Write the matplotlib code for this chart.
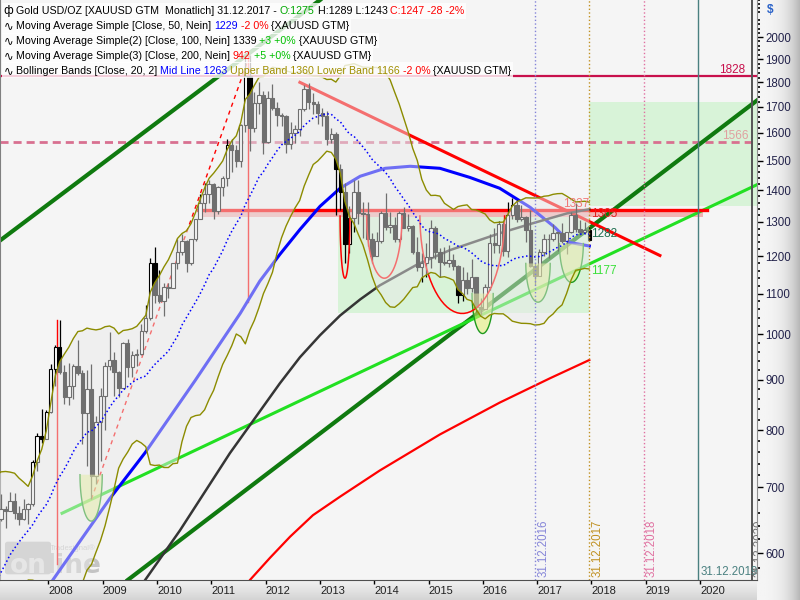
import numpy as np
import pandas as pd
import matplotlib
matplotlib.use('Agg')
import matplotlib.pyplot as plt
from matplotlib.offsetbox import TextArea, HPacker, AnchoredOffsetbox
from matplotlib.patches import FancyBboxPatch
from matplotlib.ticker import FixedLocator, NullFormatter

plt.rcParams['font.family'] = ['Liberation Sans', 'DejaVu Sans']

# Gold monthly candles, Jan 2005 - Dec 2017 (one row per year)
opens = [438, 422, 435, 428, 435, 417, 437, 429, 433, 473, 470, 495,
         513, 569, 556, 582, 654, 643, 613, 633, 623, 599, 604, 646,
         632, 650, 665, 662, 678, 659, 650, 666, 673, 743, 789, 783,
         834, 923, 972, 916, 865, 886, 928, 913, 833, 880, 718, 815,
         866, 928, 942, 916, 883, 980, 926, 954, 955, 1008, 1040, 1182,
         1096, 1081, 1118, 1113, 1180, 1212, 1244, 1181, 1248, 1308, 1357, 1386,
         1421, 1332, 1409, 1439, 1556, 1536, 1500, 1628, 1828, 1620, 1714, 1746,
         1565, 1737, 1696, 1668, 1664, 1560, 1598, 1614, 1692, 1772, 1719, 1713,
         1675, 1663, 1578, 1595, 1472, 1393, 1234, 1312, 1395, 1327, 1323, 1250,
         1202, 1244, 1326, 1284, 1291, 1250, 1327, 1282, 1287, 1211, 1171, 1182,
         1199, 1283, 1213, 1183, 1182, 1190, 1172, 1095, 1134, 1115, 1142, 1065,
         1061, 1117, 1238, 1233, 1293, 1215, 1322, 1351, 1309, 1316, 1277, 1173,
         1146, 1211, 1249, 1249, 1268, 1268, 1242, 1269, 1322, 1280, 1271, 1275]
highs = [438, 437, 446, 438, 436, 441, 438, 447, 474, 478, 497, 538,
         570, 574, 587, 654, 730, 643, 679, 666, 642, 611, 650, 651,
         653, 690, 671, 692, 691, 671, 682, 675, 746, 794, 841, 838,
         933, 975, 1033, 931, 936, 934, 988, 921, 920, 934, 826, 882,
         937, 1006, 960, 918, 983, 990, 961, 966, 1025, 1070, 1195, 1227,
         1162, 1127, 1127, 1180, 1249, 1265, 1245, 1250, 1308, 1388, 1424, 1432,
         1424, 1412, 1447, 1576, 1577, 1556, 1632, 1911, 1920, 1761, 1803, 1764,
         1764, 1791, 1720, 1677, 1667, 1640, 1630, 1692, 1790, 1796, 1755, 1723,
         1697, 1685, 1617, 1605, 1488, 1424, 1348, 1434, 1434, 1362, 1361, 1267,
         1270, 1332, 1392, 1331, 1315, 1332, 1345, 1324, 1290, 1256, 1208, 1239,
         1307, 1288, 1224, 1225, 1232, 1205, 1175, 1170, 1157, 1191, 1142, 1088,
         1125, 1263, 1283, 1304, 1304, 1362, 1375, 1367, 1352, 1318, 1338, 1180,
         1220, 1264, 1263, 1295, 1271, 1296, 1270, 1331, 1357, 1306, 1299, 1289]
lows = [418, 412, 424, 421, 414, 414, 418, 429, 432, 461, 468, 488,
        513, 538, 535, 582, 634, 543, 604, 612, 561, 560, 600, 604,
        603, 647, 636, 662, 650, 641, 648, 643, 670, 727, 776, 783,
        833, 887, 911, 850, 849, 860, 909, 774, 735, 681, 705, 745,
        800, 920, 866, 865, 883, 905, 905, 930, 953, 1004, 1035, 1075,
        1076, 1045, 1088, 1113, 1165, 1203, 1157, 1175, 1242, 1308, 1330, 1360,
        1309, 1325, 1381, 1415, 1462, 1478, 1478, 1603, 1535, 1603, 1670, 1523,
        1562, 1689, 1627, 1627, 1527, 1540, 1564, 1590, 1685, 1692, 1672, 1635,
        1626, 1555, 1562, 1321, 1338, 1180, 1208, 1271, 1293, 1251, 1228, 1181,
        1202, 1238, 1277, 1268, 1240, 1241, 1281, 1273, 1206, 1160, 1131, 1142,
        1167, 1191, 1142, 1175, 1170, 1162, 1077, 1080, 1098, 1105, 1053, 1046,
        1061, 1108, 1208, 1208, 1200, 1199, 1310, 1301, 1302, 1241, 1171, 1123,
        1146, 1200, 1195, 1244, 1214, 1237, 1205, 1267, 1271, 1261, 1265, 1243]
closes = [422, 435, 428, 435, 417, 437, 429, 433, 473, 470, 495, 513,
          569, 556, 582, 654, 643, 613, 633, 623, 599, 604, 646, 632,
          650, 665, 662, 678, 659, 650, 666, 673, 743, 789, 783, 834,
          923, 972, 916, 865, 886, 928, 913, 833, 880, 718, 815, 866,
          928, 942, 916, 883, 980, 926, 954, 955, 1008, 1040, 1182, 1096,
          1081, 1118, 1113, 1180, 1212, 1244, 1181, 1248, 1308, 1357, 1386, 1421,
          1332, 1409, 1439, 1556, 1536, 1500, 1628, 1828, 1620, 1714, 1746, 1565,
          1737, 1696, 1668, 1664, 1560, 1598, 1614, 1692, 1772, 1719, 1713, 1675,
          1663, 1578, 1595, 1472, 1393, 1234, 1312, 1395, 1327, 1323, 1250, 1202,
          1244, 1326, 1284, 1291, 1250, 1327, 1282, 1287, 1211, 1171, 1182, 1199,
          1283, 1213, 1183, 1182, 1190, 1172, 1095, 1134, 1115, 1142, 1065, 1061,
          1117, 1238, 1233, 1293, 1215, 1322, 1351, 1309, 1316, 1277, 1173, 1146,
          1211, 1249, 1249, 1268, 1268, 1242, 1269, 1322, 1280, 1271, 1275, 1247]
first_year = 2005

# Long moving averages (need history before 2005)
ma50_t = [2007.47, 2008.08, 2009.13, 2009.78, 2010.70, 2011.53, 2011.89, 2012.26, 2012.63,
          2013.00, 2013.37, 2013.74, 2014.20, 2014.66, 2015.21, 2015.76, 2016.31, 2016.87,
          2017.33, 2017.60, 2017.96]
ma50_p = [504, 564, 682, 759, 898, 1050, 1132, 1205, 1277, 1348, 1406, 1446, 1473, 1480,
          1473, 1442, 1406, 1345, 1283, 1239, 1229]
ma100_t = [2009.32, 2009.78, 2010.42, 2011.34, 2012.26, 2012.63, 2013.00, 2013.37, 2013.74,
           2014.10, 2014.79, 2015.39, 2016.31, 2016.92, 2017.55, 2017.96]
ma100_p = [518, 564, 633, 758, 892, 948, 998, 1045, 1085, 1121, 1177, 1217, 1266, 1296, 1326, 1339]
ma200_t = [2011.34, 2011.71, 2012.08, 2012.45, 2012.87, 2013.37, 2014.10, 2015.21, 2016.31,
           2017.24, 2017.96]
ma200_p = [529, 564, 594, 624, 656, 685, 728, 792, 853, 903, 942]

# Drawn trend lines (start, end)
dark_green_a_t, dark_green_a_p = [2007.11, 2013.0], [1245, 2181]
dark_green_b_t, dark_green_b_p = [2009.46, 2021.05], [564, 1726]
light_green_t, light_green_p = [2008.25, 2021.05], [659, 1418]
red_down_t, red_down_p = [2012.63, 2019.26], [1800, 1202]
red_dash_t, red_dash_p = [2008.79, 2011.71], [681, 1920]

# Horizontal levels
level_1828, level_1566, level_1337 = 1828, 1566, 1337
zone_t, zone_p = [2010.76, 2020.05], [1315, 1331]
red_level_t = [2010.76, 2020.13]

# Vertical peak markers (time, top, bottom)
peak_marks = [(2008.16, 1033, 586, 'red'), (2011.67, 1920, 1078, 'red')]

# Boxes (t0, t1, p0, p1)
green_boxes = [(2013.34, 2017.96, 1050, 1315), (2017.96, 2021.05, 1349, 1719)]

# Cycle arcs (t0, t1, top, bottom)
green_arcs = [(2008.58, 2008.99, 721, 647), (2015.80, 2016.19, 1100, 1002),
              (2016.79, 2017.24, 1180, 1078), (2017.41, 2017.85, 1236, 1129)]
red_arcs = [(2013.37, 2013.55, 1318, 1140), (2013.86, 2014.51, 1318, 1140),
            (2014.84, 2016.40, 1318, 1050)]

# Date markers
date_years = [2016, 2017, 2018, 2019, 2020]
date_colors = ['#8484d8', '#c09020', '#e070a0', '#4a8080', '#555555']

year_ticks = list(range(2008, 2021))
price_ticks = list(range(600, 2001, 100))


def bar_time(i):
    # monthly bar i is drawn in the middle of its month
    return first_year + (i + 0.5) / 12


def arc(t0, t1, top, bottom, n=40):
    # U shaped half ellipse, elliptic on the log price axis
    theta = np.linspace(0, np.pi, n)
    xs = (t0 + t1) / 2 - (t1 - t0) / 2 * np.cos(theta)
    ly = np.log(top) - (np.log(top) - np.log(bottom)) * np.sin(theta)
    return xs, np.exp(ly)


fig = plt.figure(figsize=(8, 6), dpi=100)

# grey gradient panels for the axes
rax = fig.add_axes([757 / 800, 0, 43 / 800, 1], zorder=0)
shade = np.linspace(0, 1, 64)
rax.imshow(np.tile(0.96 - 0.24 * shade ** 3, (2, 1)), cmap='gray', vmin=0, vmax=1,
           aspect='auto', extent=[0, 1, 0, 1])
rax.axis('off')
bax = fig.add_axes([0, 0, 757 / 800, 20 / 600], zorder=0)
bax.imshow(np.tile(0.95 - 0.12 * shade, (2, 1)).T, cmap='gray', vmin=0, vmax=1,
           aspect='auto', extent=[0, 1, 0, 1])
bax.axis('off')

ax = fig.add_axes([0, 20 / 600, 757 / 800, 580 / 600], zorder=2)
ax.set_facecolor('#f5f5f5')
ax.set_yscale('log')
ax.set_ylim(564, 2181)
ax.set_xlim(2007.107, 2021.048)

t = np.array([bar_time(i) for i in range(len(closes))])
o, h, l, c = (np.array(v, dtype=float) for v in (opens, highs, lows, closes))

# Bollinger bands from the closes
cs = pd.Series(c)
mid = cs.rolling(20).mean()
sd = cs.rolling(20).std(ddof=0)
upper = (mid + 2 * sd).values
lower = (mid - 2 * sd).values
ok = ~np.isnan(upper)

# boxes and resistance zone
for t0, t1, p0, p1 in green_boxes:
    ax.fill_between([t0, t1], p0, p1, color='#90ee90', alpha=0.28, lw=0, zorder=1)
ax.fill_between(zone_t, zone_p[0], zone_p[1], color='#f08888', alpha=0.6, lw=0, zorder=1.2)

# watermark
ax.add_patch(FancyBboxPatch((8 / 757, 8 / 580), 40 / 757, 28 / 580, transform=ax.transAxes,
                            boxstyle='round,pad=0.004', facecolor='#c4c4c4', edgecolor='none',
                            zorder=1.3))
ax.text(10 / 757, 7 / 580, 'on', transform=ax.transAxes, fontsize=19, fontweight='bold',
        family='DejaVu Sans', color='#e4e4e4', zorder=1.4)
ax.text(47 / 757, 7 / 580, 'line', transform=ax.transAxes, fontsize=19, fontweight='bold',
        family='DejaVu Sans', color='#c4c4c4', zorder=1.4)
ax.text(50 / 757, 30 / 580, 'Tradesignal®', transform=ax.transAxes, fontsize=5.5,
        color='#c4c4c4', zorder=1.4)

# horizontal levels
ax.axhline(level_1828, color='#c8104c', lw=1.6, zorder=2)
ax.axhline(level_1566, color='#d87090', lw=2, dashes=(2.9, 1.8), zorder=2)
ax.plot(red_level_t, [level_1337, level_1337], color='red', lw=2.4, zorder=2.1)

# trend lines
ax.plot(dark_green_a_t, dark_green_a_p, color='#0f7a0f', lw=3, zorder=2)
ax.plot(dark_green_b_t, dark_green_b_p, color='#0f7a0f', lw=3, zorder=2)
ax.plot(light_green_t, light_green_p, color='#22e022', lw=2.2, zorder=2)
ax.plot(red_down_t, red_down_p, color='red', lw=2.2, zorder=2)
ax.plot(red_dash_t, red_dash_p, color='red', lw=1, dashes=(3, 3), zorder=2)
for pt, top, bot, col in peak_marks:
    ax.plot([pt, pt], [bot, top], color=col, lw=1, zorder=2)

# moving averages
ax.plot(ma50_t, ma50_p, color='#0000ff', lw=2.2, zorder=2.2)
ax.plot(ma100_t, ma100_p, color='#353535', lw=1.8, zorder=2.2)
ax.plot(ma200_t, ma200_p, color='#ff0000', lw=1.6, zorder=2.2)

# candles: hollow up bars, filled down bars
ax.vlines(t, l, h, color='black', lw=0.9, zorder=3)
up = c >= o
body = np.maximum(np.abs(c - o), 1.5)
ax.bar(t, body, bottom=np.minimum(o, c), width=0.062, color=np.where(up, 'white', 'black'),
       edgecolor='black', lw=0.8, zorder=3.1)

# cycle arcs
for t0, t1, top, bot in green_arcs:
    xs, ys = arc(t0, t1, top, bot)
    ax.fill(xs, ys, facecolor='#e2ee70', alpha=0.55, edgecolor='none', zorder=3.4)
    ax.plot(xs, ys, color='#1f9a1f', lw=1, zorder=3.5)
for t0, t1, top, bot in red_arcs:
    xs, ys = arc(t0, t1, top, bot)
    ax.plot(xs, ys, color='red', lw=1.1, zorder=3.5)

# band shading lies over everything below it
ax.fill_between(t[ok], lower[ok], upper[ok], color='#e9e9e9', alpha=0.48, lw=0, zorder=4)
ax.plot(t[ok], upper[ok], color='#8c8c00', lw=1, zorder=5)
ax.plot(t[ok], lower[ok], color='#8c8c00', lw=1, zorder=5)
ax.plot(t[ok], mid.values[ok], color='#0000ff', lw=1.1, ls=':', zorder=5)

# date lines
for yr, col in zip(date_years, date_colors):
    x = yr + 11.5 / 12
    label = '31.12.%d' % yr
    if yr == 2019:
        ax.axvline(x, color=col, lw=1, zorder=5)
        ax.text(x + 0.05, 0.004, label, transform=ax.get_xaxis_transform(), fontsize=8.3,
                color=col, ha='left', va='bottom', zorder=6)
    elif yr == 2020:
        ax.axvline(x, color=col, lw=1.4, zorder=5)
        ax.text(x + 0.03, 0.005, label, transform=ax.get_xaxis_transform(), fontsize=8.3,
                color='#707070', rotation=90, ha='left', va='bottom', zorder=6, clip_on=True)
    else:
        ax.axvline(x, color=col, lw=1, ls=':', zorder=5)
        ax.text(x + 0.04, 0.005, label, transform=ax.get_xaxis_transform(), fontsize=8.3,
                color=col, rotation=90, ha='left', va='bottom', zorder=6)

# value labels
last_t = t[-1]
ax.text(last_t, level_1337, '1337', color='#f07878', fontsize=8.5, ha='right', va='bottom', zorder=6)
ax.text(last_t + 0.03, 1305, '1305', color='#e02020', fontsize=8.5, ha='left', va='bottom', zorder=6)
ax.text(last_t + 0.03, 1282, '1282', color='#1f6f50', fontsize=8.5, ha='left', va='top', zorder=6)
ax.text(last_t + 0.03, 1177, '1177', color='#3ae03a', fontsize=8.5, ha='left', va='top', zorder=6)
ax.text(2020.83, level_1828, '1828', color='#c8104c', fontsize=8.5, ha='right', va='bottom', zorder=6)
ax.text(2020.90, level_1566, '1566', color='#e0a0a0', fontsize=8.5, ha='right', va='bottom', zorder=6)

# axes
ax.yaxis.tick_right()
ax.set_yticks(price_ticks)
ax.set_yticklabels([str(p) for p in price_ticks])
ax.yaxis.set_minor_locator(FixedLocator([p for p in range(580, 2181, 20) if p % 100]))
ax.yaxis.set_minor_formatter(NullFormatter())
ax.tick_params(axis='y', which='major', direction='out', length=4, width=1, pad=2,
               labelsize=8.3, labelcolor='#22224a')
ax.tick_params(axis='y', which='minor', direction='out', length=2, width=1.2)
ax.set_xticks(year_ticks)
ax.set_xticklabels([str(y) for y in year_ticks])
for lab in ax.get_xticklabels():
    lab.set_horizontalalignment('left')
ax.tick_params(axis='x', direction='out', length=3, width=1, pad=1, labelsize=8,
               labelcolor='#202020')
ax.spines['top'].set_visible(False)
ax.spines['left'].set_color('#808080')
ax.spines['right'].set_color('#909090')
ax.spines['bottom'].set_color('#505050')

fig.text(767 / 800, 1 - 10 / 600, '$', color='#2a62c8', fontsize=8.5, fontweight='bold', va='center')

# legend rows with coloured pieces
legend_rows = [
    ('ф', [('Gold USD/OZ [XAUUSD GTM  Monatlich] 31.12.2017 -', 'black'), ('O:1275', '#00a800'),
           ('H:1289 L:1243', 'black'), ('C:1247 -28 -2%', '#ff0000')]),
    ('∿', [('Moving Average Simple [Close, 50, Nein]', 'black'), ('1229', '#0000ff'),
           ('-2 0%', '#ff0000'), ('{XAUUSD GTM}', 'black')]),
    ('∿', [('Moving Average Simple(2) [Close, 100, Nein] 1339', 'black'), ('+3 +0%', '#00c000'),
           ('{XAUUSD GTM}', 'black')]),
    ('∿', [('Moving Average Simple(3) [Close, 200, Nein]', 'black'), ('942', '#ff0000'),
           ('+5 +0%', '#00c000'), ('{XAUUSD GTM}', 'black')]),
    ('∿', [('Bollinger Bands [Close, 20, 2]', 'black'), ('Mid Line 1263', '#0000ff'),
           ('Upper Band 1360 Lower Band 1166', '#a08e00'), ('-2 0%', '#ff0000'),
           ('{XAUUSD GTM}', 'black')]),
]
for i, (icon, parts) in enumerate(legend_rows):
    boxes = [TextArea(icon, textprops=dict(color='black', fontsize=8.3, family='DejaVu Sans'))]
    boxes += [TextArea(txt, textprops=dict(color=col, fontsize=7.7)) for txt, col in parts]
    pack = HPacker(children=boxes, align='baseline', pad=0, sep=2.1)
    box = AnchoredOffsetbox(loc='upper left', child=pack, pad=0.1, borderpad=0, frameon=True,
                            bbox_to_anchor=(2 / 800, 1 - (3 + i * 14.8) / 600),
                            bbox_transform=fig.transFigure)
    box.patch.set_facecolor('white')
    box.patch.set_edgecolor('none')
    box.patch.set_alpha(0.8)
    box.set_zorder(8)
    ax.add_artist(box)

fig.savefig('out.png', dpi=100)
